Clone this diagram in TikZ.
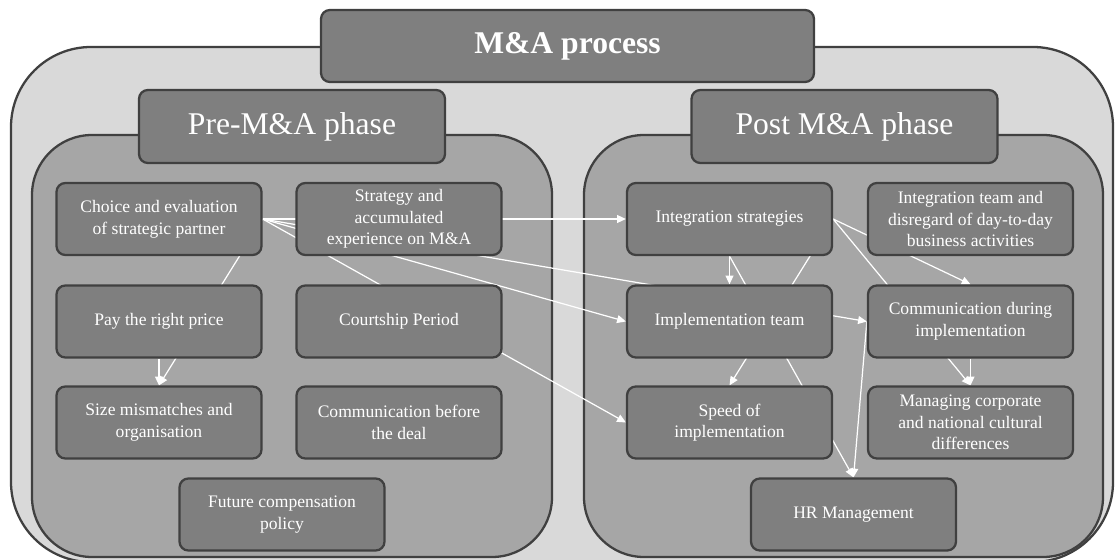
\documentclass[tikz,border=0pt]{standalone}
\usepackage{fontspec}
\setmainfont{Liberation Serif}
\usetikzlibrary{arrows.meta}
\definecolor{framegray}{HTML}{D9D9D9}
\definecolor{phasegray}{HTML}{A6A6A6}
\definecolor{boxgray}{HTML}{7F7F7F}
\definecolor{edgegray}{HTML}{404040}
\pgfdeclarelayer{back}
\pgfdeclarelayer{wires}
\pgfsetlayers{back,wires,main}
\tikzset{
  factor/.style={draw=edgegray, line width=1.3pt, fill=boxgray, rounded corners=5pt,
    text=white, align=center, font=\fontsize{10}{12.3}\selectfont,
    minimum width=4.1cm, minimum height=1.44cm, inner sep=2pt},
  phasetitle/.style={factor, font=\fontsize{18}{20}\selectfont, minimum width=6.12cm, minimum height=1.46cm},
  phasebox/.style={draw=edgegray, line width=1.3pt, fill=phasegray, rounded corners=1.2cm},
  malink/.style={draw=white, line width=0.7pt, -{Triangle[length=5pt,width=4.5pt]}},
}
\newcommand{\malink}[2]{
\draw[malink] (#1) -- (#2);
}

\begin{document}
\begin{tikzpicture}[x=0.02cm, y=-0.02cm]
\useasboundingbox (0, 0) rectangle (1115, 560);
\clip (0, 0) rectangle (1115, 560);
\begin{pgfonlayer}{back}
\draw[draw=edgegray, line width=1.3pt, fill=framegray, rounded corners=1.6cm] (11, 47) rectangle (1113, 562);
\draw[phasebox] (32, 135) rectangle (552, 557);
\draw[phasebox] (584, 135) rectangle (1103, 557);
\end{pgfonlayer}

\node[factor, font=\fontsize{18}{20}\selectfont\bfseries, minimum width=9.86cm] at (567.5, 46) (process) {M\&A process};
\node[phasetitle] at (292, 126.5) (pre) {Pre-M\&A phase};
\node[phasetitle] at (844.5, 126.5) (post) {Post M\&A phase};

% pre M&A phase
\node[factor] at (159, 219) (choice) {Choice and evaluation\\of strategic partner};
\node[factor] at (399, 219) (strategy) {Strategy and\\accumulated\\experience on M\&A};
\node[factor] at (159, 321.5) (price) {Pay the right price};
\node[factor] at (399, 321.5) (courtship) {Courtship Period};
\node[factor] at (159, 422.5) (size) {Size mismatches and\\organisation};
\node[factor] at (399, 422.5) (commbefore) {Communication before\\the deal};
\node[factor] at (282, 514.5) (compensation) {Future compensation\\policy};

% post M&A phase
\node[factor] at (729.5, 219) (intstrat) {Integration strategies};
\node[factor] at (970.5, 219) (intteam) {Integration team and\\disregard of day-to-day\\business activities};
\node[factor] at (729.5, 321.5) (implteam) {Implementation team};
\node[factor] at (970.5, 321.5) (commduring) {Communication during\\implementation};
\node[factor] at (729.5, 422.5) (speed) {Speed of\\implementation};
\node[factor] at (970.5, 422.5) (culture) {Managing corporate\\and national cultural\\differences};
\node[factor] at (853.5, 514.5) (hr) {HR Management};

\begin{pgfonlayer}{wires}
\malink{choice.east}{intstrat.west}
\malink{choice.east}{commduring.west}
\malink{choice.east}{implteam.west}
\malink{choice.east}{speed.west}
\malink{choice.east}{size.north}
\malink{price.south}{size.north}
\malink{intstrat.east}{commduring.north}
\malink{intstrat.east}{culture.north}
\malink{intstrat.east}{speed.north}
\malink{intstrat.south}{implteam.north}
\malink{intstrat.south}{hr.north}
\malink{commduring.south}{culture.north}
\malink{commduring.west}{hr.north}
\end{pgfonlayer}
\end{tikzpicture}
\end{document}
